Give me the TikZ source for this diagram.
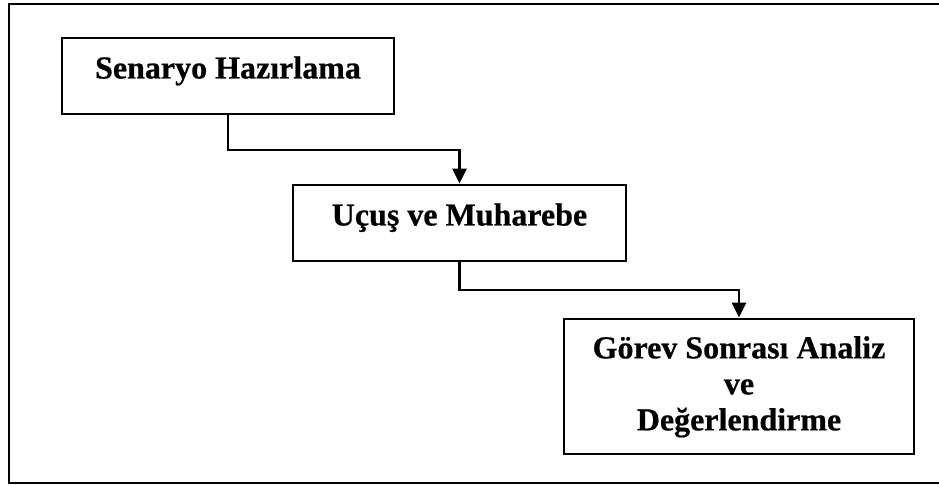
\documentclass[tikz,border=0pt]{standalone}
\usepackage{fontspec}
\setmainfont{Liberation Serif}[BoldFeatures={FakeBold=0.6}]
\usetikzlibrary{arrows.meta}
\begin{document}
\begin{tikzpicture}[x=1pt,y=-1pt,
  stagebox/.style={draw=black,line width=2.9pt,fill=white,rectangle,inner sep=0pt},
  stagetext/.style={font=\fontsize{32}{36}\selectfont\bfseries,inner sep=0pt,align=center},
  conn/.style={draw=black,line width=2.9pt,-{Triangle[width=14pt,length=15pt]}},
  frame/.style={draw=black,line width=2.9pt}]
  \useasboundingbox (0,0) rectangle (939,486);
  \clip (0,0) rectangle (939,486);
  % outer frame
  \draw[frame] (9,4) rectangle (950,483);
  % process stages
  \node[stagebox,minimum width=332pt,minimum height=76pt] (b1) at (228,76) {};
  \node[stagebox,minimum width=333pt,minimum height=76pt] (b2) at (459.5,223) {};
  \node[stagebox,minimum width=350pt,minimum height=135pt] (b3) at (739,386.5) {};
  \node[stagetext,anchor=base] (t1) at (228,78.5) {Senaryo Hazırlama};
  \node[stagetext,anchor=base] (t2) at (459.5,225.5) {Uçuş ve Muharebe};
  \node[stagetext] (t3) at (739,386.8) {Görev Sonrası Analiz\\ve\\Değerlendirme};
  % flow connectors
  \coordinate (k1) at (300,150);
  \coordinate (k2) at (600,290);
  \draw[conn] (b1.south) |- (k1) -| (b2.north);
  \draw[conn] (b2.south) |- (k2) -| (b3.north);
\end{tikzpicture}
\end{document}
